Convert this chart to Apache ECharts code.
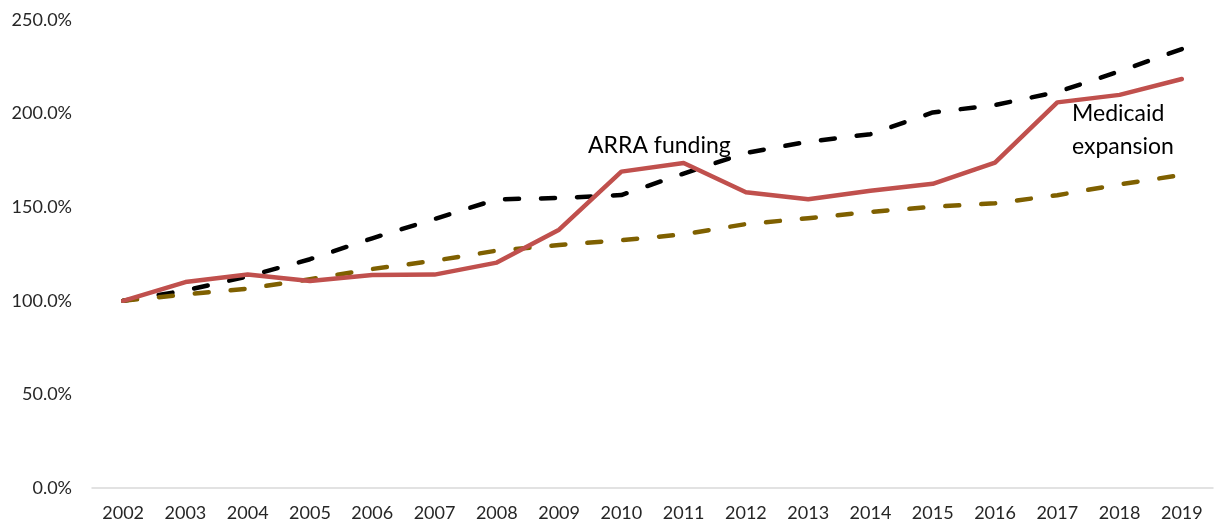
<!DOCTYPE html>
<html>
<head>
<meta charset="utf-8">
<script src="https://cdn.jsdelivr.net/npm/echarts@6/dist/echarts.min.js"></script>
<style>
html,body{margin:0;padding:0;background:#fff;}
#chart{width:1215px;height:522px;}
</style>
</head>
<body>
<div id="chart"></div>
<script>
const years = ['2002','2003','2004','2005','2006','2007','2008','2009','2010','2011','2012','2013','2014','2015','2016','2017','2018','2019'];
const redSeries = [100, 110.0, 114.0, 110.6, 113.8, 114.0, 120.4, 138.0, 169.0, 173.6, 158.0, 154.2, 158.8, 162.5, 173.8, 206.0, 210.0, 218.5];
const blackSeries = [100, 105.5, 113.0, 122.2, 133.4, 143.7, 154.2, 154.9, 156.5, 168.0, 179.0, 185.0, 189.0, 200.6, 204.6, 211.5, 222.6, 234.5];
const goldSeries = [100, 103.4, 106.5, 111.5, 117.0, 121.4, 126.8, 129.8, 132.4, 135.5, 141.0, 144.1, 147.5, 150.2, 152.1, 156.4, 162.2, 167.2];
const yTicks = {min: 0, max: 250, interval: 50};
const notes = [
  {text: 'ARRA funding', x: 588, y: 129},
  {text: 'Medicaid\nexpansion', x: 1072, y: 97}
];

const chart = echarts.init(document.getElementById('chart'), null, {renderer: 'canvas'});
const FONT = 'Lato, "Open Sans", sans-serif';
const dash = (color) => ({color: color, width: 4.5, type: [14, 22], cap: 'round', join: 'round'});

chart.setOption({
  animation: false,
  backgroundColor: '#ffffff',
  grid: {left: 92, right: 2, top: 20, bottom: 34, containLabel: false},
  xAxis: {
    type: 'category',
    data: years,
    boundaryGap: true,
    axisLine: {show: true, lineStyle: {color: '#d9d9d9', width: 1.5}},
    axisTick: {show: false},
    axisLabel: {color: '#262626', fontFamily: FONT, fontSize: 18, margin: 16}
  },
  yAxis: {
    type: 'value',
    min: yTicks.min, max: yTicks.max, interval: yTicks.interval,
    axisLine: {show: false},
    axisTick: {show: false},
    splitLine: {show: false},
    axisLabel: {color: '#262626', fontFamily: FONT, fontSize: 18, margin: 20,
      formatter: (v) => v.toFixed(1) + '%'}
  },
  series: [
    {name: 'Black', type: 'line', data: blackSeries, symbol: 'none', lineStyle: dash('#000000'), z: 2},
    {name: 'Gold', type: 'line', data: goldSeries, symbol: 'none', lineStyle: dash('#7f6000'), z: 2},
    {name: 'Red', type: 'line', data: redSeries, symbol: 'none',
      lineStyle: {color: '#c0504d', width: 4.5, join: 'round', cap: 'round'}, z: 3}
  ],
  graphic: notes.map(n => ({
    type: 'text', left: n.x, top: n.y, z: 10,
    style: {text: n.text, fill: '#000', font: '23px ' + FONT, lineHeight: 33}
  }))
});
</script>
</body>
</html>
